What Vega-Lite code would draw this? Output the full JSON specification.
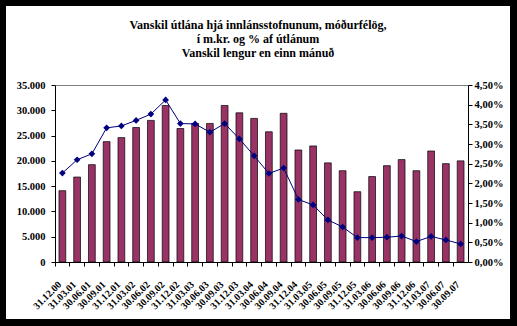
{
  "$schema": "https://vega.github.io/schema/vega-lite/v6.json",
  "width": 504,
  "height": 313,
  "autosize": {"type": "none"},
  "padding": {"left": 6, "top": 6, "right": 7, "bottom": 7},
  "background": "black",
  "config": {"view": {"fill": "white", "stroke": null}, "font": "Liberation Serif"},
  "title": {
    "text": ["Vanskil útlána hjá innlánsstofnunum, móðurfélög,", "í m.kr. og % af útlánum", "Vanskil lengur en einn mánuð"],
    "font": "Liberation Serif",
    "fontSize": 12,
    "fontWeight": "bold",
    "color": "black",
    "anchor": "middle",
    "frame": "group",
    "baseline": "alphabetic",
    "offset": -63,
    "lineHeight": 14
  },
  "data": {
    "values": [
      {"date": "31.12.00", "amount": 14100, "pct": 2.26},
      {"date": "31.03.01", "amount": 16800, "pct": 2.60},
      {"date": "30.06.01", "amount": 19250, "pct": 2.75},
      {"date": "30.09.01", "amount": 23800, "pct": 3.41},
      {"date": "31.12.01", "amount": 24600, "pct": 3.46},
      {"date": "31.03.02", "amount": 26600, "pct": 3.60},
      {"date": "30.06.02", "amount": 28000, "pct": 3.76},
      {"date": "30.09.02", "amount": 30950, "pct": 4.12},
      {"date": "31.12.02", "amount": 26400, "pct": 3.52},
      {"date": "31.03.03", "amount": 27400, "pct": 3.51},
      {"date": "30.06.03", "amount": 27400, "pct": 3.30},
      {"date": "30.09.03", "amount": 30950, "pct": 3.52},
      {"date": "31.12.03", "amount": 29500, "pct": 3.13},
      {"date": "31.03.04", "amount": 28400, "pct": 2.70},
      {"date": "30.06.04", "amount": 25750, "pct": 2.25},
      {"date": "30.09.04", "amount": 29400, "pct": 2.39},
      {"date": "31.12.04", "amount": 22150, "pct": 1.59},
      {"date": "31.03.05", "amount": 22950, "pct": 1.45},
      {"date": "30.06.05", "amount": 19600, "pct": 1.07},
      {"date": "30.09.05", "amount": 18050, "pct": 0.89},
      {"date": "31.12.05", "amount": 13900, "pct": 0.62},
      {"date": "31.03.06", "amount": 16900, "pct": 0.62},
      {"date": "30.06.06", "amount": 19050, "pct": 0.63},
      {"date": "30.09.06", "amount": 20250, "pct": 0.66},
      {"date": "31.12.06", "amount": 18050, "pct": 0.52},
      {"date": "31.03.07", "amount": 21950, "pct": 0.65},
      {"date": "30.06.07", "amount": 19450, "pct": 0.56},
      {"date": "30.09.07", "amount": 20000, "pct": 0.46}
    ]
  },
  "layer": [
    {
      "mark": {"type": "bar", "fill": "#993366", "stroke": "black", "strokeWidth": 0.7, "width": {"band": 0.46}},
      "encoding": {
        "x": {
          "field": "date",
          "type": "ordinal",
          "sort": null,
          "scale": {"type": "band", "range": [49, 462], "paddingInner": 0, "paddingOuter": 0},
          "axis": {
            "orient": "bottom",
            "offset": -57,
            "title": null,
            "bandPosition": 0,
            "labelAngle": -45,
            "labelAlign": "right",
            "labelBaseline": "top",
            "labelPadding": 13,
            "labelOffset": -6,
            "labelFont": "Liberation Serif",
            "labelFontWeight": "bold",
            "labelFontSize": 10,
            "labelColor": "black",
            "labelOverlap": false,
            "domainColor": "black",
            "tickColor": "black",
            "tickSize": 4,
            "grid": false
          }
        },
        "y": {
          "field": "amount",
          "type": "quantitative",
          "scale": {"domain": [0, 35000], "range": [256, 79], "nice": false},
          "axis": {
            "orient": "left",
            "offset": -49,
            "title": null,
            "values": [0, 5000, 10000, 15000, 20000, 25000, 30000, 35000],
            "labelExpr": "replace(format(datum.value, ','), ',', '.')",
            "labelFont": "Liberation Serif",
            "labelFontWeight": "bold",
            "labelFontSize": 10.5,
            "labelColor": "black",
            "labelPadding": 6,
            "tickSize": 4,
            "tickColor": "black",
            "domainColor": "black",
            "grid": true,
            "gridColor": "#808080",
            "gridOpacity": {"condition": {"test": "datum.value === 35000", "value": 1}, "value": 0}
          }
        }
      }
    },
    {
      "mark": {"type": "line", "stroke": "#000080", "strokeWidth": 1, "point": {"shape": "diamond", "filled": true, "fill": "#000080", "size": 45}},
      "encoding": {
        "x": {"field": "date", "type": "ordinal", "sort": null},
        "y": {
          "field": "pct",
          "type": "quantitative",
          "scale": {"domain": [0, 4.5], "range": [256, 79], "nice": false},
          "axis": {
            "orient": "right",
            "offset": -42,
            "title": null,
            "values": [0, 0.5, 1, 1.5, 2, 2.5, 3, 3.5, 4, 4.5],
            "labelExpr": "replace(format(datum.value, '.2f'), '.', ',') + '%'",
            "labelFont": "Liberation Serif",
            "labelFontWeight": "bold",
            "labelFontSize": 10.5,
            "labelColor": "black",
            "labelPadding": 2,
            "tickSize": 4,
            "tickColor": "black",
            "domainColor": "black",
            "grid": false
          }
        }
      }
    }
  ],
  "resolve": {"scale": {"y": "independent"}}
}
